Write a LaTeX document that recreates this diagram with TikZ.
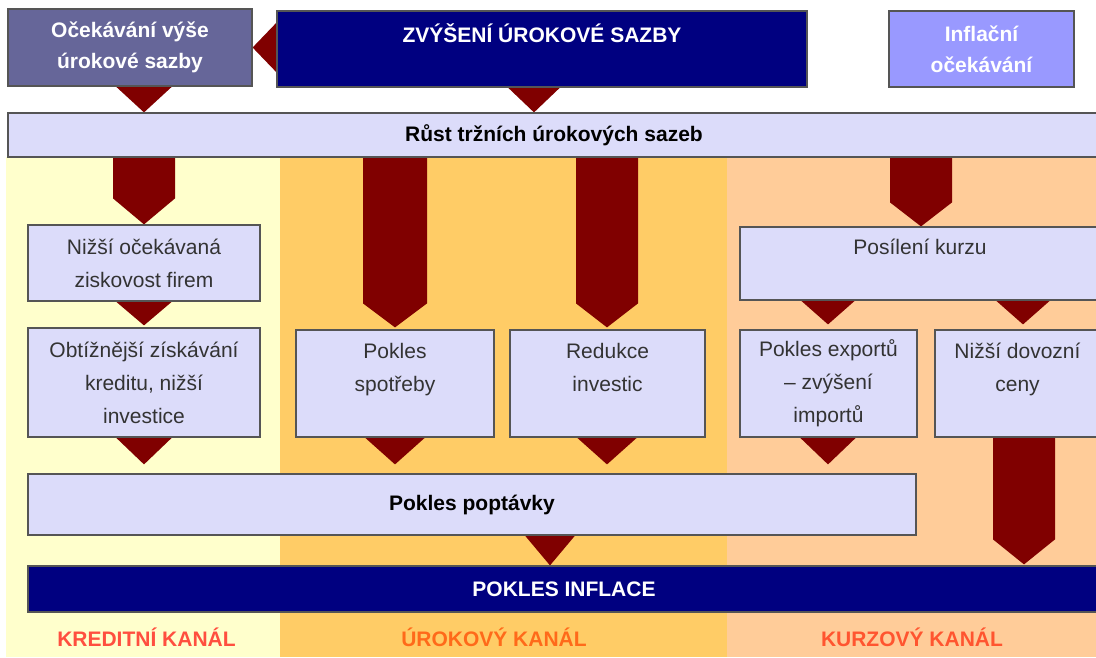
\documentclass[tikz,border=0pt]{standalone}
\usepackage{fontspec}
\setmainfont{Liberation Sans}
\usetikzlibrary{calc}
\definecolor{navy}{HTML}{000080}
\definecolor{slate}{HTML}{666699}
\definecolor{lilac}{HTML}{9999FF}
\definecolor{boxfill}{HTML}{DCDCFA}
\definecolor{boxline}{HTML}{555555}
\definecolor{darkred}{HTML}{800000}
\definecolor{colA}{HTML}{FFFFCC}
\definecolor{colB}{HTML}{FFCC66}
\definecolor{colC}{HTML}{FFCC99}
\definecolor{txt}{HTML}{333333}
\definecolor{chA}{HTML}{FF4F3F}
\definecolor{chB}{HTML}{FF6A1A}
\definecolor{chC}{HTML}{FF5530}
\pgfdeclarelayer{bg}
\pgfdeclarelayer{arr}
\pgfsetlayers{bg,arr,main}
\tikzset{
  lbox/.style={draw=boxline, line width=1.2pt, fill=boxfill, text=txt, align=center,
    inner sep=0pt, font=\fontsize{21}{33}\selectfont},
  boldbox/.style={lbox, text=black, font=\bfseries\fontsize{21}{33}\selectfont},
  topbox/.style={draw=boxline, line width=1.2pt, text=white, align=center, inner sep=0pt,
    font=\bfseries\fontsize{21}{31}\selectfont},
  chan/.style={font=\bfseries\fontsize{21}{25}\selectfont},
  arrfill/.style={fill=darkred}
}
% block arrow: from, to, x, half width, head length, gap before target
\newcommand\blkarrow[6]{%
  \begin{pgfonlayer}{arr}
  \fill[arrfill] let \p1=(#1.south), \p2=(#2.north), \n1={min(\y1,\y2+#6pt+#5pt)} in
    ({#3pt-#4pt},\y1) -- ({#3pt+#4pt},\y1) -- ({#3pt+#4pt},{\n1*1pt})
    -- (#3pt,{\y2+#6pt}) -- ({#3pt-#4pt},{\n1*1pt}) -- cycle;
  \end{pgfonlayer}}
\begin{document}
\begin{tikzpicture}[x=1pt,y=-1pt]
\useasboundingbox (0,0) rectangle (1096,657);
\begin{pgfonlayer}{bg}
  \fill[white] (0,0) rectangle (1096,657);
  \fill[colA] (6,157) rectangle (280,657);
  \fill[colB] (280,157) rectangle (727,657);
  \fill[colC] (727,157) rectangle (1096,657);
\end{pgfonlayer}

% top row
\node[topbox, fill=slate, minimum width=244pt, minimum height=77pt] (oce) at (130,47.5) {Očekávání výše\\úrokové sazby};
\node[topbox, fill=navy, minimum width=530pt, minimum height=76pt] (zvy) at (542,49) {ZVÝŠENÍ ÚROKOVÉ SAZBY\\\mbox{}};
\node[topbox, fill=lilac, minimum width=185pt, minimum height=76pt] (inf) at (981.5,49) {Inflační\\očekávání};

% rust bar
\node[boldbox, minimum width=1092pt, minimum height=44pt] (rust) at (554,135) {Růst tržních úrokových sazeb};

% second row
\node[lbox, minimum width=232pt, minimum height=76pt] (nizsi) at (144,263) {Nižší očekávaná\\ziskovost firem};
\node[lbox, minimum width=360pt, minimum height=73pt] (posil) at (920,263.5) {Posílení kurzu\\\mbox{}};

% third row
\node[lbox, minimum width=232pt, minimum height=109pt] (obt) at (144,382.5) {Obtížnější získávání\\kreditu, nižší\\investice};
\node[lbox, minimum width=198pt, minimum height=107pt] (spot) at (395,383.5) {Pokles\\spotřeby\\\mbox{}};
\node[lbox, minimum width=195pt, minimum height=107pt] (red) at (607.5,383.5) {Redukce\\investic\\\mbox{}};
\node[lbox, minimum width=177pt, minimum height=107pt] (exp) at (828.5,383.5) {Pokles exportů\\– zvýšení\\importů};
\node[lbox, minimum width=165pt, minimum height=107pt] (dov) at (1017.5,383.5) {Nižší dovozní\\ceny\\\mbox{}};

% demand and inflation
\node[boldbox, minimum width=888pt, minimum height=61pt] (popt) at (472,504.5) {Pokles poptávky};
\node[topbox, fill=navy, minimum width=1072pt, minimum height=46pt] (infl) at (564,589) {POKLES INFLACE};

% channel labels
\node[chan, text=chA] (kred) at (146.5,637) {KREDITNÍ KANÁL};
\node[chan, text=chB] (urok) at (494,637) {ÚROKOVÝ KANÁL};
\node[chan, text=chC] (kurz) at (912,637) {KURZOVÝ KANÁL};

% block arrows
\begin{pgfonlayer}{arr}
\fill[arrfill] let \p1=(oce.east), \p2=(zvy.west) in
  (\p1) -- ({\x2+6pt},{\y1+31pt}) -- ({\x2+6pt},{\y1-31pt}) -- cycle;
\end{pgfonlayer}
\blkarrow{oce}{rust}{144}{28}{100}{0}
\blkarrow{zvy}{rust}{534}{26}{100}{0}
\blkarrow{rust}{nizsi}{144}{31}{26}{0}
\blkarrow{rust}{spot}{395}{32}{24}{2}
\blkarrow{rust}{red}{607}{31}{24}{2}
\blkarrow{rust}{posil}{921}{31}{24}{0}
\blkarrow{nizsi}{obt}{144}{28}{100}{2}
\blkarrow{posil}{exp}{828}{27}{100}{5}
\blkarrow{posil}{dov}{1023}{27}{100}{5}
\blkarrow{obt}{popt}{144}{28}{100}{9}
\blkarrow{spot}{popt}{395}{30}{100}{9}
\blkarrow{red}{popt}{607}{30}{100}{9}
\blkarrow{exp}{popt}{828}{28}{100}{9}
\blkarrow{popt}{infl}{550}{25}{100}{0}
\blkarrow{dov}{infl}{1024}{31}{25}{1}
\end{tikzpicture}
\end{document}
